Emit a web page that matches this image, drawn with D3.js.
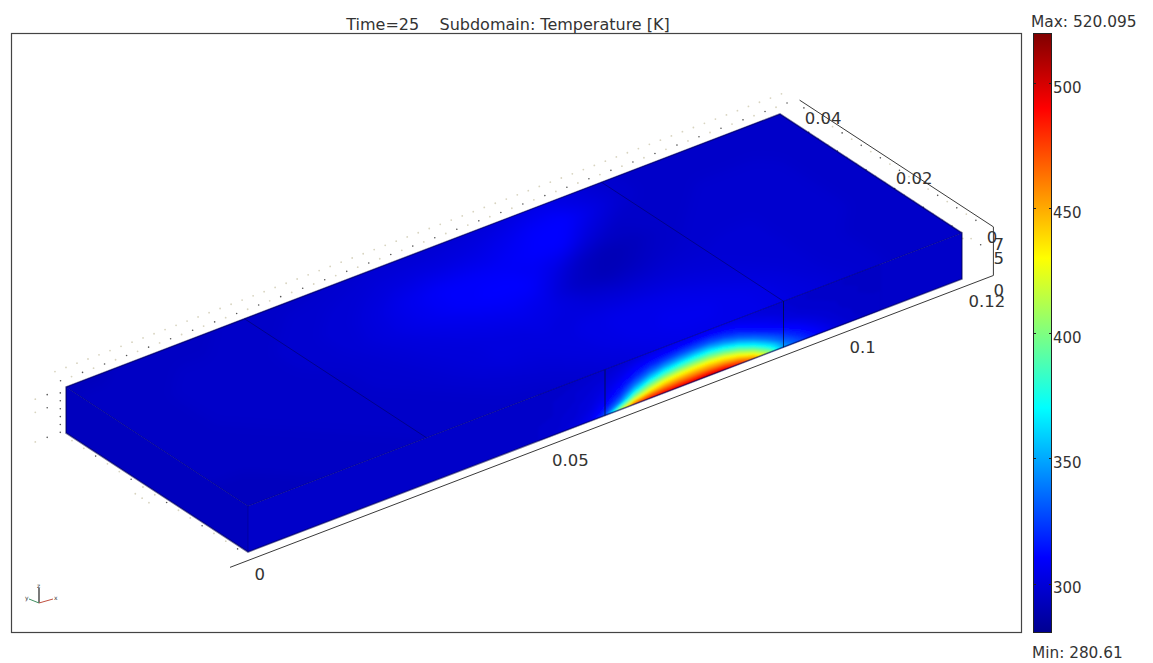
<!DOCTYPE html>
<html>
<head>
<meta charset="utf-8">
<script src="https://cdn.jsdelivr.net/npm/d3@7"></script>
<style>
  html, body { margin: 0; padding: 0; background: #fff; }
  svg { display: block; }
  text { font-family: "DejaVu Sans", sans-serif; fill: #333; }
</style>
</head>
<body>
<div id="chart"></div>
<script>
var tempMin = 280.61, tempMax = 520.095;
var barTicks = [300, 350, 400, 450, 500];
var jetStops = [0, 0.125, 0.375, 0.625, 0.875, 1];
var jetColors = ["#000090", "#0000ff", "#00ffff", "#ffff00", "#ff0000", "#800000"];

var xTicks = [0, 0.05, 0.1, 0.12];
var yTicks = [0, 0.02, 0.04];
var zTicks = [0, 0.005, 0.007];
var zTickLabels = ["0", "5", "7"];

// slab size and the axis box round it
var xMax = 0.12, yMax = 0.04, zMax = 0.007;
var boxX = [-0.0044, 0.1239], boxY = [-0.0018, 0.0408], boxZ = [0, 0.0074];
// geometry edges on the slab
var topBreaks = [0.03, 0.09];
var frontBreaks = [0.06, 0.09];

// top face temperature, one row per y (0 to 0.04, step 0.005), x 0 to 0.12 step 0.005
var topStepX = 0.005, topStepY = 0.005;
var topTemps = [
  [294,294,294,295,295,295,296,296,296,297,297,298,300,302,304,306,306,306,304,302,300,298,297,296,296],
  [294,294,295,295,295,296,296,296,297,298,299,300,302,304,306,307,307,306,304,301,299,298,297,296,296],
  [295,295,295,295,296,296,296,297,298,300,302,302,303,304,306,306,305,303,301,300,299,298,297,297,296],
  [295,295,295,296,296,296,297,298,299,301,302,303,304,303,301,300,300,300,300,299,299,298,298,297,297],
  [295,295,296,296,296,297,297,298,300,302,304,306,308,306,296,292,294,297,298,299,299,298,298,297,297],
  [295,295,296,296,297,297,298,299,301,304,307,310,312,313,305,295,291,294,297,298,298,298,298,297,297],
  [295,295,296,296,296,297,298,299,300,303,307,310,310,309,311,313,302,296,296,297,298,298,298,297,297],
  [295,295,295,296,296,296,297,298,299,300,302,303,303,304,307,311,312,304,298,297,297,297,297,297,297],
  [294,294,295,295,295,296,296,297,297,298,299,299,299,300,301,303,305,302,298,297,297,296,296,296,296]
];

// front face temperature, one row per z (0 to 0.007, step 0.001), x 0.05 to 0.105 step 0.0025
var frontX0 = 0.05, frontStepX = 0.0025, frontStepZ = 0.001;
var frontTemps = [
  [298,300,303,307,330,410,470,490,495,498,500,505,500,485,460,410,350,330,315,306,300,298,296],
  [298,299,301,305,316,345,410,440,455,460,462,462,458,445,415,370,335,320,310,303,299,297,296],
  [298,299,300,303,310,325,365,400,420,428,432,432,425,405,372,340,322,312,305,300,298,297,296],
  [297,298,300,302,306,316,338,362,380,390,395,395,385,365,340,322,312,306,301,299,297,296,296],
  [297,298,299,301,304,310,322,336,348,355,360,360,350,335,320,310,305,301,299,298,297,296,295],
  [297,298,299,300,302,306,313,320,325,330,332,332,326,318,310,306,302,299,298,297,296,296,295],
  [296,297,298,299,300,303,307,310,312,314,316,316,313,309,305,302,300,298,297,296,296,295,295],
  [296,296,297,298,299,300,302,304,305,306,306,306,305,304,302,300,299,298,297,296,296,295,295]
];
var frontBase = 296, leftBase = 293;

var width = 1153, height = 663;

var svg = d3.select("#chart").append("svg")
    .attr("width", width)
    .attr("height", height);

var defs = svg.append("defs");
defs.append("filter").attr("id", "soft")
    .attr("x", "-5%").attr("y", "-5%").attr("width", "110%").attr("height", "110%")
  .append("feGaussianBlur").attr("stdDeviation", 1.2);
defs.append("filter").attr("id", "softer")
    .attr("x", "-5%").attr("y", "-5%").attr("width", "110%").attr("height", "110%")
  .append("feGaussianBlur").attr("stdDeviation", 6);

var jet = d3.scaleLinear()
    .domain(jetStops.map(function(t) { return tempMin + t * (tempMax - tempMin); }))
    .range(jetColors)
    .clamp(true);

// oblique projection, one linear scale per axis
var xPx = d3.scaleLinear().domain([0, xMax]).range([0, 714]);
var xPy = d3.scaleLinear().domain([0, xMax]).range([0, -273]);
var yPx = d3.scaleLinear().domain([0, yMax]).range([0, -182]);
var yPy = d3.scaleLinear().domain([0, yMax]).range([0, -119]);
var zPy = d3.scaleLinear().domain([0, zMax]).range([0, -46]);
var originX = 248, originY = 552;

function project(x, y, z) {
  return [originX + xPx(x) + yPx(y), originY + xPy(x) + yPy(y) + zPy(z)];
}
function poly(points) {
  return "M" + points.map(function(p) { return project(p[0], p[1], p[2]).join(","); }).join("L") + "Z";
}
function seg(a, b) {
  return "M" + project(a[0], a[1], a[2]).join(",") + "L" + project(b[0], b[1], b[2]).join(",");
}

var topFace = [[0, 0, zMax], [xMax, 0, zMax], [xMax, yMax, zMax], [0, yMax, zMax]];
var frontFace = [[0, 0, 0], [xMax, 0, 0], [xMax, 0, zMax], [0, 0, zMax]];
var leftFace = [[0, 0, 0], [0, yMax, 0], [0, yMax, zMax], [0, 0, zMax]];
var outline = [[0, yMax, 0], [0, 0, 0], [xMax, 0, 0], [xMax, 0, zMax], [xMax, yMax, zMax], [0, yMax, zMax]];

defs.append("clipPath").attr("id", "clipTop").append("path").attr("d", poly(topFace));
defs.append("clipPath").attr("id", "clipFront").append("path").attr("d", poly(frontFace));

// frame and title
svg.append("rect")
    .attr("x", 11.5).attr("y", 33.5).attr("width", 1010).attr("height", 599)
    .attr("fill", "#fff").attr("stroke", "#444").attr("stroke-width", 1.2);

svg.append("text")
    .attr("x", 508).attr("y", 29.5)
    .attr("text-anchor", "middle")
    .attr("font-size", 16)
    .style("white-space", "pre")
    .text("Time=25    Subdomain: Temperature [K]");

// dotted grid of the axis box, just visible round the slab
var dots = [];
d3.range(0, boxX[1], 0.00185).forEach(function(x, i) {
  dots.push({p: project(x, boxY[1] + 0.0004, boxZ[1]), dark: i % 2 == 0});
  dots.push({p: project(x + 0.0009, boxY[1] + 0.0028, boxZ[1]), dark: false});
});
d3.range(0.001, boxY[1], 0.0021).forEach(function(y, i) {
  dots.push({p: project(boxX[1] - 0.0008, y, boxZ[1]), dark: i % 2 == 0});
  dots.push({p: project(boxX[1] - 0.003, y, boxZ[1] - 0.002), dark: false});
  dots.push({p: project(boxX[1], y, boxZ[1] - 0.004), dark: i % 3 == 0});
});
d3.range(0, 0.0072, 0.0012).forEach(function(z, i) {
  dots.push({p: project(-0.0005, yMax + 0.0006, z), dark: true});
});
[0, 0.0045, 0.0065].forEach(function(z) {
  dots.push({p: project(-0.0027, yMax + 0.0006, z), dark: true});
  dots.push({p: project(-0.0047, yMax + 0.0006, z), dark: false});
});
d3.range(0.0015, yMax, 0.0026).forEach(function(y, i) {
  dots.push({p: project(-0.0006, y, 0), dark: i % 3 == 0});
});
[0.0185, 0.02, 0.0215].forEach(function(y) {
  dots.push({p: project(-0.0025, y, 0), dark: false});
});

svg.append("g").selectAll("circle")
  .data(dots)
  .enter()
  .append("circle")
    .attr("cx", function(d) { return d.p[0]; })
    .attr("cy", function(d) { return d.p[1]; })
    .attr("r", function(d) { return d.dark ? 0.8 : 0.9; })
    .attr("fill", function(d) { return d.dark ? "#555" : "#d8d4c0"; });

// axis lines
var axisG = svg.append("g").attr("fill", "none").attr("stroke", "#3a3a3a").attr("stroke-width", 1);
axisG.append("path").attr("d", seg([boxX[0], boxY[0], 0], [boxX[1], boxY[0], 0]));
axisG.append("path").attr("d", seg([boxX[1], boxY[0], 0], [boxX[1], boxY[0], boxZ[1]]));
axisG.append("path").attr("d", seg([boxX[1], boxY[0], boxZ[1]], [boxX[1], boxY[1], boxZ[1]]));

// slab faces
svg.append("path").attr("d", poly(leftFace)).attr("fill", jet(leftBase));
svg.append("path").attr("d", poly(frontFace)).attr("fill", jet(frontBase));
svg.append("path").attr("d", poly(topFace)).attr("fill", jet(296));

function drawField(values, clip, filter, toPoint) {
  var ny = values.length, nx = values[0].length;
  var flat = [];
  values.forEach(function(row) { flat = flat.concat(row); });
  var contours = d3.contours()
      .size([nx, ny])
      .thresholds(d3.range(290, 520, 1.5))(flat);

  function ringPath(ring) {
    return "M" + ring.map(function(c) { return toPoint(c[0] - 0.5, c[1] - 0.5).join(","); }).join("L") + "Z";
  }
  svg.append("g")
      .attr("clip-path", "url(#" + clip + ")")
    .append("g")
      .attr("filter", "url(#" + filter + ")")
    .selectAll("path")
    .data(contours)
    .enter()
    .append("path")
      .attr("fill", function(d) { return jet(d.value); })
      .attr("fill-rule", "evenodd")
      .attr("d", function(d) {
        return d.coordinates.map(function(polygon) {
          return polygon.map(ringPath).join("");
        }).join("");
      });
}

drawField(topTemps, "clipTop", "softer", function(i, j) {
  return project(i * topStepX, j * topStepY, zMax);
});
drawField(frontTemps, "clipFront", "soft", function(i, j) {
  return project(frontX0 + i * frontStepX, 0, j * frontStepZ);
});

// wireframe
var wire = svg.append("g").attr("fill", "none").attr("stroke", "#000050");
wire.append("path").attr("d", poly(outline)).attr("stroke-opacity", 0.55).attr("stroke-width", 1.6);
wire.append("path").attr("d", seg([0, 0, zMax], [0, yMax, zMax])).attr("stroke-opacity", 0.4);
wire.append("path").attr("d", seg([0, 0, zMax], [xMax, 0, zMax])).attr("stroke-opacity", 0.4);
wire.append("path").attr("d", seg([0, 0, zMax], [0, 0, 0])).attr("stroke-opacity", 0.3);
topBreaks.forEach(function(x) {
  wire.append("path").attr("d", seg([x, 0, zMax], [x, yMax, zMax])).attr("stroke-opacity", 0.5);
});
frontBreaks.forEach(function(x) {
  wire.append("path").attr("d", seg([x, 0, 0], [x, 0, zMax]))
      .attr("stroke", "#001030").attr("stroke-opacity", 0.75);
});

// axis labels
var labels = svg.append("g").attr("font-size", 16.5);
xTicks.forEach(function(v) {
  var p = project(v, 0, 0);
  labels.append("text").attr("x", p[0] + 6.5).attr("y", p[1] + 28).text(v);
});
yTicks.forEach(function(v) {
  var p = project(boxX[1], v, boxZ[1]);
  labels.append("text").attr("x", p[0] + 1.5).attr("y", p[1] + 22).text(v);
});
zTicks.forEach(function(v, i) {
  var p = project(boxX[1], boxY[0], v);
  labels.append("text").attr("x", p[0]).attr("y", p[1] + 21).text(zTickLabels[i]);
});

// colour bar
var barScale = d3.scaleLinear().domain([tempMin, tempMax]).range([632, 33]);
var grad = defs.append("linearGradient").attr("id", "jetBar")
    .attr("x1", 0).attr("y1", 1).attr("x2", 0).attr("y2", 0);
jetStops.forEach(function(t, i) {
  grad.append("stop").attr("offset", t).attr("stop-color", jetColors[i]);
});
svg.append("rect")
    .attr("x", 1033.5).attr("y", 33.5).attr("width", 18).attr("height", 599)
    .attr("fill", "url(#jetBar)").attr("stroke", "#222").attr("stroke-width", 1);

var barAxis = d3.axisRight(barScale).tickValues(barTicks).tickSize(0).tickPadding(1);
var barG = svg.append("g")
    .attr("transform", "translate(1052,0)")
    .call(barAxis);
barG.select(".domain").remove();
barG.selectAll("text")
    .attr("dy", "0.72em")
    .attr("y", -2)
    .style("font-size", "15px")
    .style("font-family", "DejaVu Sans");

svg.append("g").selectAll("path")
  .data(barTicks)
  .enter()
  .append("path")
    .attr("stroke", "#222")
    .attr("d", function(d) {
      var y = Math.round(barScale(d)) + 0.5;
      return "M1033,"+ y + "h3M1049," + y + "h3";
    });

svg.append("text").attr("x", 1031).attr("y", 27).attr("font-size", 15.4).text("Max: " + tempMax);
svg.append("text").attr("x", 1032).attr("y", 658).attr("font-size", 15.3).text("Min: " + tempMin);

// orientation triad
var triad = svg.append("g").attr("transform", "translate(39,603)").attr("fill", "none");
triad.append("path").attr("d", "M0,0V-15").attr("stroke", "#222").attr("stroke-width", 1.2);
triad.append("path").attr("d", "M0,0L14,-4").attr("stroke", "#c05040");
triad.append("path").attr("d", "M0,0L-10,-4").attr("stroke", "#409060");
var triadText = svg.append("g").attr("font-size", 6);
triadText.append("text").attr("x", 54).attr("y", 600).text("x");
triadText.append("text").attr("x", 25).attr("y", 600).text("y");
triadText.append("text").attr("x", 37).attr("y", 588).text("z");
</script>
</body>
</html>
